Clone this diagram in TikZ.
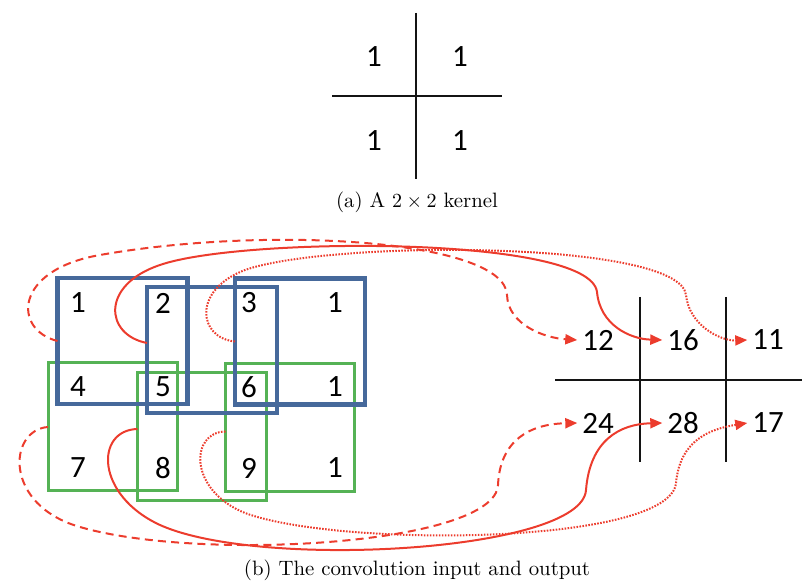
\documentclass[tikz,border=0pt]{standalone}
\usepackage{fontspec}
\newfontfamily\digitfont{Carlito}
\usepackage{tikz}
\usetikzlibrary{arrows.meta}
\usepackage{xcolor}
\definecolor{ink}{RGB}{20,20,20}
\definecolor{cWin}{RGB}{70,105,155}
\definecolor{cPad}{RGB}{85,178,85}
\definecolor{cArr}{RGB}{236,60,45}
\tikzset{
  num/.style={font=\digitfont\fontsize{15.5}{18}\selectfont,inner sep=2.5pt,outer sep=0pt},
  win/.style={draw=cWin,line width=2.2pt,minimum width=65pt,minimum height=63pt,
    inner sep=0pt,outer sep=0pt},
  pad/.style={draw=cPad,line width=1.5pt,minimum width=64.5pt,minimum height=64pt,
    inner sep=0pt,outer sep=0pt},
  rule/.style={draw=ink,line width=0.8pt},
  capt/.style={font=\fontsize{10.4}{12}\selectfont,inner sep=1pt},
  ar/.style={cArr,line width=1pt,-{Triangle[length=6pt,width=5pt]}},
  arDash/.style={ar,dash pattern=on 4pt off 2.6pt},
  arDot/.style={ar,line width=1pt,dash pattern=on 0.8pt off 0.7pt},
}

\begin{document}
\begin{tikzpicture}[x=0.5pt,y=-0.5pt]
  \useasboundingbox (0,0) rectangle (802,581);
  % (a) kernel
  \draw[rule] (416,13) -- (416,179);
  \draw[rule] (332,96) -- (502,96);
  \node[num] (k11) at (374,57) {1};
  \node[num] (k12) at (460,57) {1};
  \node[num] (k21) at (374,141) {1};
  \node[num] (k22) at (460,141) {1};
  \node[capt] (capA) at (417,202) {(a) A $2\times2$ kernel};
  % (b) input with windows
  \node[pad] (grA) at (112.5,427) {};
  \node[pad] (grB) at (202,437) {};
  \node[pad] (grC) at (290,427.5) {};
  \node[win] (blA) at (122.5,341) {};
  \node[win] (blB) at (212,350) {};
  \node[win] (blC) at (300,341.5) {};
  \node[num] (i11) at (78,303) {1};
  \node[num] (i12) at (163,303) {2};
  \node[num] (i13) at (249,303) {3};
  \node[num] (i14) at (335,303) {1};
  \node[num] (i21) at (78,387) {4};
  \node[num] (i22) at (163,387) {5};
  \node[num] (i23) at (249,387) {6};
  \node[num] (i24) at (335,387) {1};
  \node[num] (i31) at (78,468) {7};
  \node[num] (i32) at (163,468) {8};
  \node[num] (i33) at (249,468) {9};
  \node[num] (i34) at (335,468) {1};
  % output
  \draw[rule] (555,380) -- (802,380);
  \draw[rule] (640,297) -- (640,462);
  \draw[rule] (726,297) -- (726,462);
  \node[num] (o12) at (598,340) {12};
  \node[num] (o16) at (683,340) {16};
  \node[num] (o11) at (768,340) {11};
  \node[num] (o24) at (598,423) {24};
  \node[num] (o28) at (683,423) {28};
  \node[num] (o17) at (768,423) {17};
  \node[capt] (capB) at (417,570) {(b) The convolution input and output};
  % arrows
  \draw[arDash] (blA.west) .. controls (13,330) and (13,270) .. (100,255)
    .. controls (270,225) and (505,240) .. (507,295)
    .. controls (508,325) and (545,338) .. (o12.west);
  \draw[ar] ([yshift=3.5pt]blB.west) .. controls (105,335) and (100,285) .. (160,265)
    .. controls (240,237) and (590,235) .. (597,292)
    .. controls (600,325) and (630,339) .. (o16.west);
  \draw[arDot] (blC.west) .. controls (198,338) and (192,290) .. (245,270)
    .. controls (330,240) and (680,240) .. (686,295)
    .. controls (689,325) and (720,341) .. (o11.west);
  \draw[arDash] (grA.west) .. controls (8,430) and (3,505) .. (80,527)
    .. controls (200,562) and (495,545) .. (498,485)
    .. controls (500,440) and (530,424) .. (o24.west);
  \draw[ar] ([yshift=4pt]grB.west) .. controls (95,430) and (95,495) .. (160,525)
    .. controls (260,570) and (582,552) .. (586,490)
    .. controls (590,440) and (620,424) .. (o28.west);
  \draw[arDot] ([yshift=-2pt]grC.west) .. controls (190,432) and (188,490) .. (245,513)
    .. controls (340,548) and (670,545) .. (676,483)
    .. controls (680,440) and (710,429) .. (o17.west);
\end{tikzpicture}
\end{document}
